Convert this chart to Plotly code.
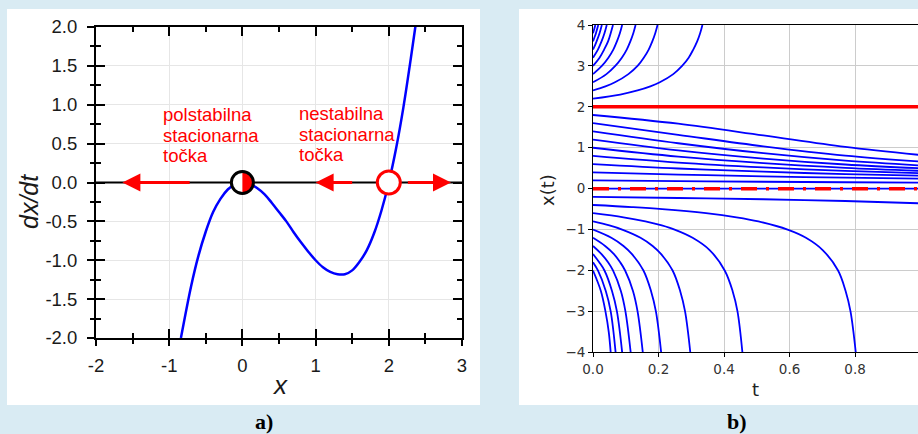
import plotly.graph_objects as go

# ---------------- panel a) : dx/dt versus x ----------------
A_X = [-0.84, -0.7, -0.6, -0.5, -0.4, -0.3, -0.2, -0.1, 0.0, 0.1, 0.2, 0.3, 0.4, 0.5,
       0.6, 0.7, 0.8, 0.9, 1.0, 1.1, 1.2, 1.3, 1.4, 1.5, 1.6, 1.7, 1.8, 1.9, 2.0,
       2.1, 2.2, 2.3, 2.37]
A_Y = [-2.0, -1.33, -0.94, -0.63, -0.38, -0.21, -0.09, -0.02, 0.0, -0.02, -0.07, -0.15,
       -0.26, -0.38, -0.50, -0.64, -0.77, -0.89, -1.0, -1.09, -1.15, -1.18, -1.18,
       -1.13, -1.02, -0.87, -0.65, -0.36, 0.0, 0.44, 0.97, 1.59, 2.05]
A_ZERO_X = [-2, 3]
A_ZERO_Y = [0, 0]
SEMI_STABLE_X = 0.0
UNSTABLE_X = 2.0
ARROW_TAIL_X = [-0.70, 1.52, 2.24]
ARROW_HEAD_X = [-1.64, 1.00, 2.85]
A_XTICKS = [-2, -1, 0, 1, 2, 3]
A_XTICKTEXT = ["-2", "-1", "0", "1", "2", "3"]
A_YTICKS = [-2.0, -1.5, -1.0, -0.5, 0.0, 0.5, 1.0, 1.5, 2.0]
A_YTICKTEXT = ["-2.0", "-1.5", "-1.0", "-0.5", "0.0", "0.5", "1.0", "1.5", "2.0"]
A_XMINOR = [-1.5, -0.5, 0.5, 1.5, 2.5]
A_YMINOR = [-1.75, -1.25, -0.75, -0.25, 0.25, 0.75, 1.25, 1.75]
LEFT_LABEL = ["polstabilna", "stacionarna", "točka"]
RIGHT_LABEL = ["nestabilna", "stacionarna", "točka"]

# ---------------- panel b) : x(t) trajectories ----------------
UP_T = [
    [0, 0.083, 0.136, 0.175, 0.204, 0.245, 0.272, 0.292, 0.306, 0.318, 0.327, 0.334],
    [0, 0.038, 0.067, 0.108, 0.136, 0.155, 0.170, 0.181, 0.190, 0.197],
    [0, 0.041, 0.068, 0.088, 0.103, 0.114, 0.123, 0.130],
    [0, 0.027, 0.047, 0.062, 0.073, 0.082, 0.089],
    [0, 0.020, 0.034, 0.046, 0.054, 0.061],
    [0, 0.015, 0.026, 0.035, 0.042],
    [0, 0.006, 0.011, 0.020, 0.027],
    [0, 0.0046, 0.009, 0.016],
    [0, 0.0038, 0.0071],
]
UP_X = [
    [2.2, 2.3, 2.4, 2.5, 2.6, 2.8, 3.0, 3.2, 3.4, 3.6, 3.8, 4.0],
    [2.4, 2.5, 2.6, 2.8, 3.0, 3.2, 3.4, 3.6, 3.8, 4.0],
    [2.6, 2.8, 3.0, 3.2, 3.4, 3.6, 3.8, 4.0],
    [2.8, 3.0, 3.2, 3.4, 3.6, 3.8, 4.0],
    [3.0, 3.2, 3.4, 3.6, 3.8, 4.0],
    [3.2, 3.4, 3.6, 3.8, 4.0],
    [3.4, 3.5, 3.6, 3.8, 4.0],
    [3.6, 3.7, 3.8, 4.0],
    [3.8, 3.9, 4.0],
]
MID_T = [0, 0.26, 0.52, 0.77, 1.03]
MID_X = [
    [1.8, 1.587, 1.302, 1.022, 0.798],
    [1.6, 1.316, 1.035, 0.808, 0.643],
    [1.4, 1.110, 0.866, 0.684, 0.553],
    [1.2, 0.937, 0.736, 0.590, 0.486],
    [1.0, 0.783, 0.624, 0.510, 0.427],
    [0.8, 0.637, 0.520, 0.434, 0.370],
    [0.6, 0.493, 0.415, 0.355, 0.310],
    [0.4, 0.345, 0.300, 0.268, 0.240],
    [0.2, 0.1835, 0.169, 0.157, 0.147],
    [0.0, 0.0, 0.0, 0.0, 0.0],
    [-0.2, -0.228, -0.259, -0.302, -0.367],
]
LOW_T = [
    [0, 0.118, 0.211, 0.345, 0.438, 0.505, 0.594, 0.650, 0.701, 0.748, 0.771, 0.786, 0.802],
    [0, 0.093, 0.160, 0.210, 0.249, 0.304, 0.356, 0.402, 0.426, 0.441, 0.456],
    [0, 0.050, 0.089, 0.145, 0.182, 0.208, 0.243, 0.266, 0.281, 0.297],
    [0, 0.056, 0.093, 0.119, 0.154, 0.177, 0.192, 0.208],
    [0, 0.037, 0.064, 0.083, 0.098, 0.122, 0.136, 0.152],
    [0, 0.026, 0.046, 0.061, 0.085, 0.099, 0.115],
    [0, 0.019, 0.035, 0.058, 0.073, 0.089],
    [0, 0.015, 0.039, 0.054, 0.069],
    [0, 0.024, 0.038, 0.048, 0.054],
]
LOW_X = [
    [-0.4, -0.45, -0.5, -0.6, -0.7, -0.8, -1.0, -1.2, -1.5, -2.0, -2.5, -3.0, -4.0],
    [-0.6, -0.7, -0.8, -0.9, -1.0, -1.2, -1.5, -2.0, -2.5, -3.0, -4.0],
    [-0.8, -0.9, -1.0, -1.2, -1.4, -1.6, -2.0, -2.5, -3.0, -4.0],
    [-1.0, -1.2, -1.4, -1.6, -2.0, -2.5, -3.0, -4.0],
    [-1.2, -1.4, -1.6, -1.8, -2.0, -2.5, -3.0, -4.0],
    [-1.4, -1.6, -1.8, -2.0, -2.5, -3.0, -4.0],
    [-1.6, -1.8, -2.0, -2.5, -3.0, -4.0],
    [-1.8, -2.0, -2.5, -3.0, -4.0],
    [-2.0, -2.5, -3.0, -3.5, -4.0],
]
B_LINE_T = [0, 1.05]
B_UNSTABLE = [2, 2]
B_SEMI = [0, 0]
B_XTICKS = [0.0, 0.2, 0.4, 0.6, 0.8]
B_XTICKTEXT = ["0.0", "0.2", "0.4", "0.6", "0.8"]
B_YTICKS = [-4, -3, -2, -1, 0, 1, 2, 3, 4]
B_YTICKTEXT = ["\u22124", "\u22123", "\u22122", "\u22121", "0", "1", "2", "3", "4"]

# ---------------- style ----------------
W, H = 918, 434
BG = "#d9ebf3"
BLUE = "#0000ff"
RED = "#ff0000"
ARIAL = "Liberation Sans, Arial, sans-serif"
DEJAVU = "DejaVu Sans, sans-serif"


def px(x):
    return x / W


def py(y):
    return (H - y) / H


fig = go.Figure()

# panel a traces
fig.add_trace(go.Scatter(x=A_ZERO_X, y=A_ZERO_Y, mode="lines",
                         line=dict(color="black", width=2), xaxis="x", yaxis="y",
                         hoverinfo="skip"))
fig.add_trace(go.Scatter(x=A_X, y=A_Y, mode="lines", line_shape="spline",
                         line=dict(color=BLUE, width=2.5), xaxis="x", yaxis="y"))
fig.add_trace(go.Scatter(x=[None], y=[None], xaxis="x3", yaxis="y3",
                         hoverinfo="skip"))

# panel b traces
for ts, xs in zip(UP_T, UP_X):
    fig.add_trace(go.Scatter(x=ts, y=xs, mode="lines", line_shape="spline",
                             line=dict(color=BLUE, width=1.8), xaxis="x2", yaxis="y2"))
for xs in MID_X:
    fig.add_trace(go.Scatter(x=MID_T, y=xs, mode="lines", line_shape="spline",
                             line=dict(color=BLUE, width=1.8), xaxis="x2", yaxis="y2"))
for ts, xs in zip(LOW_T, LOW_X):
    fig.add_trace(go.Scatter(x=ts, y=xs, mode="lines", line_shape="spline",
                             line=dict(color=BLUE, width=1.8), xaxis="x2", yaxis="y2"))
fig.add_trace(go.Scatter(x=B_LINE_T, y=B_UNSTABLE, mode="lines",
                         line=dict(color=RED, width=3.5), xaxis="x2", yaxis="y2"))
fig.add_trace(go.Scatter(x=B_LINE_T, y=B_SEMI, mode="lines",
                         line=dict(color=RED, width=3.5, dash="16px,9px,3px,9px"),
                         xaxis="x2", yaxis="y2"))

a_dom_x = [px(96), px(462)]
a_dom_y = [py(338), py(27)]
b_dom_x = [px(593), 1.0]
b_dom_y = [py(352.3), py(25)]

common_a = dict(showgrid=False, zeroline=False, tickcolor="black", tickwidth=1.5,
                automargin=False)

fig.update_layout(
    width=W, height=H, margin=dict(l=0, r=0, t=0, b=0, autoexpand=False),
    paper_bgcolor=BG, plot_bgcolor="white", showlegend=False,
    xaxis=dict(domain=a_dom_x, range=[-2, 3], anchor="y", automargin=False,
               tickmode="array", tickvals=A_XTICKS, ticktext=A_XTICKTEXT,
               ticks="outside", ticklen=6, tickwidth=1.5, tickcolor="black",
               minor=dict(tickmode="array", tickvals=A_XMINOR, ticks="outside",
                          ticklen=4, tickwidth=1.5, tickcolor="black", showgrid=False),
               showline=True, linecolor="black", linewidth=2, mirror=True,
               showgrid=True, gridcolor="#e6e6e6", gridwidth=1, zeroline=False,
               tickfont=dict(family=ARIAL, size=18.5, color="#1a1a1a"),
               ticklabelstandoff=4),
    yaxis=dict(domain=a_dom_y, range=[-2, 2], anchor="x", automargin=False,
               tickmode="array", tickvals=A_YTICKS, ticktext=A_YTICKTEXT,
               ticks="outside", ticklen=7, tickwidth=1.5, tickcolor="black",
               minor=dict(tickmode="array", tickvals=A_YMINOR, ticks="outside",
                          ticklen=4, tickwidth=1.5, tickcolor="black", showgrid=False),
               showline=True, linecolor="black", linewidth=2, mirror=True,
               showgrid=True, gridcolor="#e6e6e6", gridwidth=1, zeroline=False,
               tickfont=dict(family=ARIAL, size=18.5, color="#1a1a1a"),
               ticklabelstandoff=6),
    xaxis3=dict(overlaying="x", anchor="y", range=[-2, 3],
                tickmode="array", tickvals=A_XTICKS, ticks="inside", ticklen=9,
                minor=dict(tickmode="array", tickvals=A_XMINOR, ticks="inside",
                           ticklen=5, tickwidth=1.5, tickcolor="black", showgrid=False),
                mirror="ticks", showline=False, showticklabels=False, **common_a),
    yaxis3=dict(overlaying="y", anchor="x", range=[-2, 2],
                tickmode="array", tickvals=A_YTICKS, ticks="inside", ticklen=9,
                minor=dict(tickmode="array", tickvals=A_YMINOR, ticks="inside",
                           ticklen=5, tickwidth=1.5, tickcolor="black", showgrid=False),
                mirror="ticks", showline=False, showticklabels=False, **common_a),
    xaxis2=dict(domain=b_dom_x, range=[0, 0.992], anchor="y2", automargin=False,
                tickmode="array", tickvals=B_XTICKS, ticktext=B_XTICKTEXT,
                ticks="outside", ticklen=4, tickwidth=1, tickcolor="black",
                showline=True, linecolor="black", linewidth=1, mirror=True,
                showgrid=True, gridcolor="#cccccc", gridwidth=1, zeroline=False,
                tickfont=dict(family=DEJAVU, size=13.5, color="#333333")),
    yaxis2=dict(domain=b_dom_y, range=[-4, 4], anchor="x2", automargin=False,
                tickmode="array", tickvals=B_YTICKS, ticktext=B_YTICKTEXT,
                ticks="outside", ticklen=4, tickwidth=1, tickcolor="black",
                showline=True, linecolor="black", linewidth=1, mirror=False,
                showgrid=True, gridcolor="#cccccc", gridwidth=1, zeroline=False,
                tickfont=dict(family=DEJAVU, size=13.5, color="#333333")),
)

# white panels
shapes = [
    dict(type="rect", xref="paper", yref="paper", x0=px(7), x1=px(480), y0=py(405), y1=py(9),
         fillcolor="white", line=dict(width=0), layer="below"),
    dict(type="rect", xref="paper", yref="paper", x0=px(519), x1=1.0, y0=py(405), y1=py(9),
         fillcolor="white", line=dict(width=0), layer="below"),
]
k = 0.5523
r = 10.5
half = (f"M0,{-r} C{k*r},{-r} {r},{-k*r} {r},0 C{r},{k*r} {k*r},{r} 0,{r} Z")
shapes += [
    dict(type="circle", xref="x", yref="y", xsizemode="pixel", ysizemode="pixel",
         xanchor=SEMI_STABLE_X, yanchor=0, x0=-11.5, x1=11.5, y0=-11.5, y1=11.5,
         fillcolor="white", line=dict(color="black", width=0)),
    dict(type="path", xref="x", yref="y", xsizemode="pixel", ysizemode="pixel",
         xanchor=SEMI_STABLE_X, yanchor=0, path=half, fillcolor=RED, line=dict(width=0)),
    dict(type="circle", xref="x", yref="y", xsizemode="pixel", ysizemode="pixel",
         xanchor=SEMI_STABLE_X, yanchor=0, x0=-11, x1=11, y0=-11, y1=11,
         fillcolor="rgba(0,0,0,0)", line=dict(color="black", width=3)),
    dict(type="circle", xref="x", yref="y", xsizemode="pixel", ysizemode="pixel",
         xanchor=UNSTABLE_X, yanchor=0, x0=-11.5, x1=11.5, y0=-11.5, y1=11.5,
         fillcolor="white", line=dict(color=RED, width=3)),
]
fig.update_layout(shapes=shapes)

ann = []
for tail, head in zip(ARROW_TAIL_X, ARROW_HEAD_X):
    ann.append(dict(x=head, y=0, ax=tail, ay=0, xref="x", yref="y", axref="x", ayref="y",
                    text="", showarrow=True, arrowhead=2, arrowsize=1.2, arrowwidth=3,
                    arrowcolor=RED))
for i, line in enumerate(LEFT_LABEL):
    ann.append(dict(x=px(161), y=py(114.5 + 20.5 * i), xref="paper", yref="paper",
                    text=line, showarrow=False, xanchor="left", yanchor="middle",
                    font=dict(family=ARIAL, size=18.5, color=RED)))
for i, line in enumerate(RIGHT_LABEL):
    ann.append(dict(x=px(297), y=py(114 + 20.5 * i), xref="paper", yref="paper",
                    text=line, showarrow=False, xanchor="left", yanchor="middle",
                    font=dict(family=ARIAL, size=18.5, color=RED)))
# axis titles
ann += [
    dict(x=px(29), y=py(202), xref="paper", yref="paper", text="<i>dx/dt</i>",
         showarrow=False, textangle=-90, xanchor="center", yanchor="middle",
         font=dict(family=ARIAL, size=25, color="#1a1a1a")),
    dict(x=px(279.5), y=py(385), xref="paper", yref="paper", text="<i>x</i>",
         showarrow=False, xanchor="center", yanchor="middle",
         font=dict(family=ARIAL, size=26, color="#1a1a1a")),
    dict(x=px(547), y=py(190), xref="paper", yref="paper", text="x(t)",
         showarrow=False, textangle=-90, xanchor="center", yanchor="middle",
         font=dict(family=DEJAVU, size=18, color="#222222")),
    dict(x=px(755.5), y=py(389), xref="paper", yref="paper", text="t",
         showarrow=False, xanchor="center", yanchor="middle",
         font=dict(family=DEJAVU, size=18, color="#222222")),
    dict(x=px(264), y=py(421), xref="paper", yref="paper", text="<b>a)</b>",
         showarrow=False, xanchor="center", yanchor="middle",
         font=dict(family="Liberation Serif, Times New Roman, serif", size=22, color="black")),
    dict(x=px(737), y=py(421), xref="paper", yref="paper", text="<b>b)</b>",
         showarrow=False, xanchor="center", yanchor="middle",
         font=dict(family="Liberation Serif, Times New Roman, serif", size=22, color="black")),
]
fig.update_layout(annotations=ann)

fig.write_html("out.html")
